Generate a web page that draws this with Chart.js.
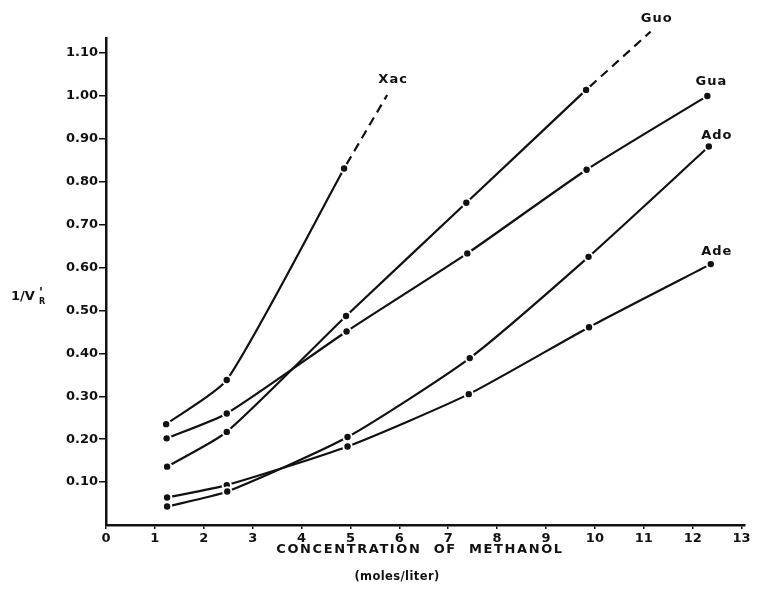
<!DOCTYPE html>
<html>
<head>
<meta charset="utf-8">
<script src="https://cdn.jsdelivr.net/npm/chart.js@4.4.1/dist/chart.umd.min.js"></script>
<style>
  html, body { margin: 0; padding: 0; background: #fff; }
  canvas { display: block; }
</style>
</head>
<body>
<canvas id="chart" width="760" height="604"></canvas>
<script>
// methanol concentration (moles/liter) and 1/V'R
const xacConc = [1.23, 2.47, 4.87];
const xacInv  = [0.235, 0.338, 0.831];
const xacDashConc = [4.87, 5.75];
const xacDashInv  = [0.831, 1.002];

const guoConc = [1.25, 2.47, 4.91, 7.37, 9.82];
const guoInv  = [0.136, 0.217, 0.487, 0.751, 1.014];
const guoDashConc = [9.82, 11.14];
const guoDashInv  = [1.014, 1.15];

const guaConc = [1.24, 2.47, 4.92, 7.39, 9.83, 12.30];
const guaInv  = [0.202, 0.260, 0.451, 0.633, 0.828, 1.000];

const adoConc = [1.25, 2.48, 4.94, 7.44, 9.87, 12.33];
const adoInv  = [0.043, 0.078, 0.205, 0.389, 0.625, 0.882];

const adeConc = [1.25, 2.47, 4.94, 7.42, 9.88, 12.37];
const adeInv  = [0.064, 0.093, 0.183, 0.305, 0.461, 0.608];

const seriesNames = ['Xac', 'Guo', 'Gua', 'Ado', 'Ade'];
const xTickVals = [0, 1, 2, 3, 4, 5, 6, 7, 8, 9, 10, 11, 12, 13];
const yTickVals = [0.1, 0.2, 0.3, 0.4, 0.5, 0.6, 0.7, 0.8, 0.9, 1.0, 1.1];

const INK = '#111';
const toPoints = (xs, ys) => xs.map((x, i) => ({ x: x, y: ys[i] }));

function solidSet(name, xs, ys) {
  return {
    label: name,
    data: toPoints(xs, ys),
    showLine: true,
    borderColor: INK,
    borderWidth: 2.2,
    tension: 0.2,
    pointRadius: 4.2,
    pointBackgroundColor: INK,
    pointBorderColor: '#fff',
    pointBorderWidth: 2,
    clip: false
  };
}

function dashSet(name, xs, ys) {
  return {
    label: name + ' (ext)',
    data: toPoints(xs, ys),
    showLine: true,
    borderColor: INK,
    borderWidth: 2.2,
    borderDash: [9, 6],
    borderDashOffset: -5,
    pointRadius: 0,
    clip: false
  };
}

// series name drawn next to the last point of each curve
const labelAnchors = {
  Xac: [xacDashConc, xacDashInv],
  Guo: [guoDashConc, guoDashInv],
  Gua: [guaConc, guaInv],
  Ado: [adoConc, adoInv],
  Ade: [adeConc, adeInv]
};
const labelNudge = { Xac: [6, -15], Guo: [6, -13], Gua: [4, -14], Ado: [8, -11], Ade: [6, -12] };

const textPlugin = {
  id: 'figureText',
  afterDraw(chart) {
    const ctx = chart.ctx;
    const xs = chart.scales.x, ys = chart.scales.y;
    ctx.save();
    ctx.fillStyle = INK;

    // curve names
    ctx.font = 'bold 13px "DejaVu Sans"';
    ctx.letterSpacing = '1px';
    ctx.textAlign = 'center';
    ctx.textBaseline = 'middle';
    seriesNames.forEach(name => {
      const [cx, cy] = labelAnchors[name];
      const n = cx.length - 1;
      const px = xs.getPixelForValue(cx[n]) + labelNudge[name][0];
      const py = ys.getPixelForValue(cy[n]) + labelNudge[name][1];
      ctx.fillText(name, px, py);
    });

    // x axis title
    ctx.font = 'bold 13px "DejaVu Sans"';
    ctx.letterSpacing = '1.6px';
    ctx.fillText('CONCENTRATION  OF  METHANOL', 420, 550);
    ctx.letterSpacing = '0.4px';
    ctx.font = 'bold 11.5px "DejaVu Sans"';
    ctx.fillText('(moles/liter)', 397, 577);
    ctx.letterSpacing = '0px';

    // y axis title 1/V'R
    ctx.textAlign = 'left';
    ctx.font = 'bold 13px "DejaVu Sans"';
    ctx.fillText('1/V', 11, 297);
    ctx.font = 'bold 13px "DejaVu Sans"';
    ctx.fillText("'", 39, 293);
    ctx.font = 'bold 8px "DejaVu Sans"';
    ctx.fillText('R', 39, 302);
    ctx.restore();
  }
};

new Chart(document.getElementById('chart'), {
  type: 'scatter',
  data: {
    datasets: [
      solidSet('Xac', xacConc, xacInv),
      solidSet('Guo', guoConc, guoInv),
      solidSet('Gua', guaConc, guaInv),
      solidSet('Ado', adoConc, adoInv),
      solidSet('Ade', adeConc, adeInv),
      dashSet('Xac', xacDashConc, xacDashInv),
      dashSet('Guo', guoDashConc, guoDashInv)
    ]
  },
  options: {
    responsive: false,
    animation: false,
    devicePixelRatio: 1,
    layout: { padding: { top: 38, right: 15, left: 0, bottom: 0 } },
    plugins: {
      legend: { display: false },
      tooltip: { enabled: false }
    },
    scales: {
      x: {
        type: 'linear',
        min: 0,
        max: 13.07,
        afterBuildTicks: axis => { axis.ticks = xTickVals.map(v => ({ value: v })); },
        afterFit: axis => { axis.height = 79; },
        ticks: {
          color: INK,
          font: { family: 'DejaVu Sans', size: 13, weight: 'bold' },
          padding: 2,
          maxRotation: 0,
          callback: v => String(v)
        },
        grid: { drawOnChartArea: false, drawTicks: true, tickLength: 4, color: INK, lineWidth: 1.5 },
        border: { display: true, color: INK, width: 2.5 }
      },
      y: {
        type: 'linear',
        min: 0,
        max: 1.135,
        afterBuildTicks: axis => { axis.ticks = yTickVals.map(v => ({ value: v })); },
        afterFit: axis => { axis.width = 106; },
        ticks: {
          color: INK,
          font: { family: 'DejaVu Sans', size: 13, weight: 'bold' },
          padding: 1,
          callback: v => v.toFixed(2)
        },
        grid: { drawOnChartArea: false, drawTicks: true, tickLength: 7, color: INK, lineWidth: 1.5 },
        border: { display: true, color: INK, width: 2.5 }
      }
    }
  },
  plugins: [textPlugin]
});
</script>
</body>
</html>
